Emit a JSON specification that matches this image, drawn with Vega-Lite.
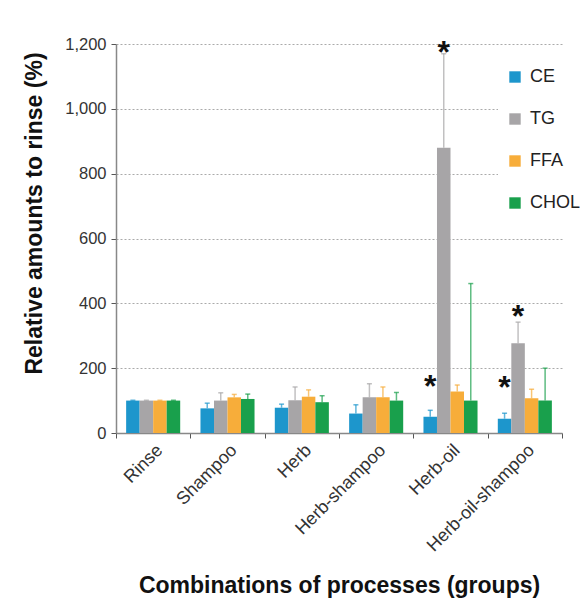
{
  "$schema": "https://vega.github.io/schema/vega-lite/v6.json",
  "width": 446,
  "height": 389,
  "autosize": {"type": "none"},
  "padding": {"left": 116, "top": 44, "right": 18, "bottom": 165},
  "background": "white",
  "config": {
    "font": "Liberation Sans",
    "view": {"stroke": null}
  },
  "datasets": {
    "bars": [
      {"group": "Rinse", "lipid": "CE", "value": 100, "upper": 101},
      {"group": "Rinse", "lipid": "TG", "value": 100, "upper": 101},
      {"group": "Rinse", "lipid": "FFA", "value": 100, "upper": 101},
      {"group": "Rinse", "lipid": "CHOL", "value": 100, "upper": 101},
      {"group": "Shampoo", "lipid": "CE", "value": 76, "upper": 92},
      {"group": "Shampoo", "lipid": "TG", "value": 100, "upper": 124},
      {"group": "Shampoo", "lipid": "FFA", "value": 110, "upper": 119},
      {"group": "Shampoo", "lipid": "CHOL", "value": 105, "upper": 120},
      {"group": "Herb", "lipid": "CE", "value": 78, "upper": 89},
      {"group": "Herb", "lipid": "TG", "value": 101, "upper": 142},
      {"group": "Herb", "lipid": "FFA", "value": 112, "upper": 133},
      {"group": "Herb", "lipid": "CHOL", "value": 95, "upper": 115},
      {"group": "Herb-shampoo", "lipid": "CE", "value": 60, "upper": 87},
      {"group": "Herb-shampoo", "lipid": "TG", "value": 110, "upper": 152},
      {"group": "Herb-shampoo", "lipid": "FFA", "value": 110, "upper": 142},
      {"group": "Herb-shampoo", "lipid": "CHOL", "value": 100, "upper": 125},
      {"group": "Herb-oil", "lipid": "CE", "value": 50, "upper": 70},
      {"group": "Herb-oil", "lipid": "TG", "value": 880, "upper": 1170},
      {"group": "Herb-oil", "lipid": "FFA", "value": 128, "upper": 148},
      {"group": "Herb-oil", "lipid": "CHOL", "value": 100, "upper": 461},
      {"group": "Herb-oil-shampoo", "lipid": "CE", "value": 44, "upper": 61},
      {"group": "Herb-oil-shampoo", "lipid": "TG", "value": 277, "upper": 342},
      {"group": "Herb-oil-shampoo", "lipid": "FFA", "value": 107, "upper": 135},
      {"group": "Herb-oil-shampoo", "lipid": "CHOL", "value": 100, "upper": 200}
    ],
    "stars": [
      {"group": "Herb-oil", "lipid": "TG", "y": 1196},
      {"group": "Herb-oil", "lipid": "CE", "y": 168},
      {"group": "Herb-oil-shampoo", "lipid": "TG", "y": 381},
      {"group": "Herb-oil-shampoo", "lipid": "CE", "y": 165}
    ]
  },
  "encoding": {
    "x": {
      "field": "group",
      "type": "nominal",
      "sort": ["Rinse", "Shampoo", "Herb", "Herb-shampoo", "Herb-oil", "Herb-oil-shampoo"],
      "scale": {"paddingInner": 0, "paddingOuter": 0},
      "axis": {
        "title": "Combinations of processes (groups)",
        "titleFontSize": 23,
        "titleFontWeight": "bold",
        "titleColor": "#111",
        "titlePadding": 20,
        "labelAngle": -45,
        "labelFontSize": 18,
        "labelColor": "#333",
        "labelPadding": 3,
        "tickBand": "extent",
        "tickSize": 5,
        "tickColor": "#555",
        "domainColor": "#888",
        "domainWidth": 1.5,
        "grid": false
      }
    },
    "xOffset": {
      "field": "lipid",
      "type": "nominal",
      "sort": ["CE", "TG", "FFA", "CHOL"],
      "scale": {"paddingInner": 0, "paddingOuter": 0.75}
    }
  },
  "layer": [
    {
      "data": {"name": "bars"},
      "mark": {"type": "bar"},
      "encoding": {
        "y": {
          "field": "value",
          "type": "quantitative",
          "scale": {"domain": [0, 1200], "nice": false},
          "axis": {
            "title": "Relative amounts to rinse (%)",
            "titleFontSize": 23,
            "titleFontWeight": "bold",
            "titleColor": "#111",
            "titleX": -82,
            "titleY": 169,
            "titleAngle": -90,
            "titleAlign": "center",
            "titleBaseline": "middle",
            "values": [0, 200, 400, 600, 800, 1000, 1200],
            "format": ",d",
            "labelFontSize": 16.5,
            "labelColor": "#333",
            "labelPadding": 5,
            "tickSize": 5,
            "tickColor": "#555",
            "domainColor": "#888",
            "domainWidth": 1.5,
            "grid": true,
            "gridColor": "#aaa",
            "gridDash": [2, 2],
            "gridWidth": 1
          }
        },
        "color": {
          "field": "lipid",
          "type": "nominal",
          "sort": ["CE", "TG", "FFA", "CHOL"],
          "scale": {
            "domain": ["CE", "TG", "FFA", "CHOL"],
            "range": ["#1d96cc", "#a7a5a7", "#f7ad3a", "#19a04c"]
          },
          "legend": {
            "title": null,
            "orient": "none",
            "legendX": 382,
            "legendY": 16,
            "fillColor": "white",
            "padding": 8,
            "symbolType": "square",
            "symbolSize": 130,
            "symbolStrokeWidth": 0,
            "labelFontSize": 18,
            "labelColor": "#222",
            "rowPadding": 24,
            "labelOffset": 6
          }
        }
      }
    },
    {
      "data": {"name": "bars"},
      "mark": {"type": "rule", "strokeWidth": 1.5},
      "encoding": {
        "y": {"field": "value", "type": "quantitative"},
        "y2": {"field": "upper"},
        "color": {
          "field": "lipid",
          "type": "nominal",
          "scale": {
            "domain": ["CE", "TG", "FFA", "CHOL"],
            "range": ["#1d96cc", "#a7a5a7", "#f7ad3a", "#19a04c"]
          },
          "legend": null
        },
        "opacity": {"value": 0.7}
      }
    },
    {
      "data": {"name": "bars"},
      "mark": {"type": "tick", "orient": "horizontal", "size": 5, "thickness": 1.5},
      "encoding": {
        "y": {"field": "upper", "type": "quantitative"},
        "color": {
          "field": "lipid",
          "type": "nominal",
          "scale": {
            "domain": ["CE", "TG", "FFA", "CHOL"],
            "range": ["#1d96cc", "#a7a5a7", "#f7ad3a", "#19a04c"]
          },
          "legend": null
        },
        "opacity": {"value": 0.7}
      }
    },
    {
      "data": {"name": "stars"},
      "mark": {"type": "text", "text": "*", "fontSize": 32, "fontWeight": "bold", "color": "#111", "baseline": "alphabetic", "dy": 18},
      "encoding": {
        "y": {"field": "y", "type": "quantitative"}
      }
    }
  ]
}
